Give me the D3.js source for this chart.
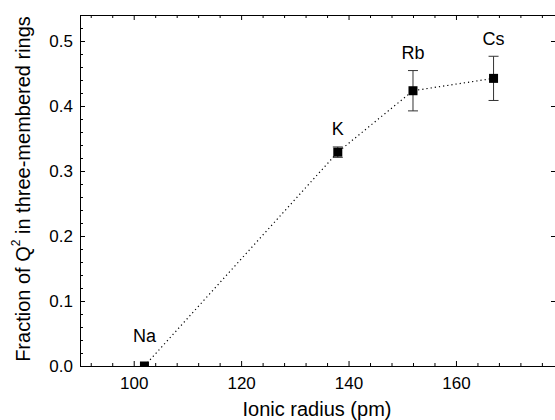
<!DOCTYPE html>
<html>
<head>
<meta charset="utf-8">
<script src="https://cdn.jsdelivr.net/npm/d3@7"></script>
<style>
  body { margin: 0; background: #fff; }
  svg { display: block; font-family: "Liberation Sans", Arial, sans-serif; }
</style>
</head>
<body>
<script>
const width = 555
const height = 420

// data
const ions = ['Na', 'K', 'Rb', 'Cs']
const radius = [102, 138, 152, 167]
const fraction = [0.0, 0.329, 0.4235, 0.4425]
const errors = [0.0, 0.008, 0.031, 0.034]
const xTicks = [100, 120, 140, 160]
const yTicks = [0.0, 0.1, 0.2, 0.3, 0.4, 0.5]

const points = ions.map((name, i) => ({name: name, x: radius[i], y: fraction[i], err: errors[i]}))

const x = d3.scaleLinear().domain([90, 179]).range([80, 558])
const y = d3.scaleLinear().domain([0, 0.54]).range([366, 15])

const svg = d3.select('body').append('svg')
  .attr('width', width)
  .attr('height', height)

svg.append('defs').append('clipPath')
    .attr('id', 'plot')
  .append('rect')
    .attr('x', x.range()[0])
    .attr('y', y.range()[1])
    .attr('width', x.range()[1] - x.range()[0])
    .attr('height', y.range()[0] - y.range()[1])

const xMinor = d3.range(92, 179, 4).filter(v => v % 20 !== 0)
const yMinor = d3.range(0, 0.541, 0.02).map(v => +v.toFixed(2)).filter(v => Math.round(v * 100) % 10 !== 0)

function styleAxis(g){
  g.selectAll('path').attr('stroke', '#000').attr('stroke-width', 1)
  g.selectAll('line').attr('stroke', '#000')
  g.selectAll('text').attr('fill', '#000').attr('font-size', 17)
}

// bottom
svg.append('g').attr('transform', `translate(0,${y.range()[0]})`)
  .call(d3.axisBottom(x).tickValues(xMinor).tickSize(-3).tickFormat('').tickSizeOuter(0))
  .call(styleAxis)
svg.append('g').attr('transform', `translate(0,${y.range()[0]})`)
  .call(d3.axisBottom(x).tickValues(xTicks).tickSize(-5).tickPadding(11).tickFormat(d3.format('d')).tickSizeOuter(0))
  .call(styleAxis)
// top
svg.append('g').attr('transform', `translate(0,${y.range()[1]})`)
  .call(d3.axisTop(x).tickValues(xMinor).tickSize(-3).tickFormat('').tickSizeOuter(0))
  .call(styleAxis)
svg.append('g').attr('transform', `translate(0,${y.range()[1]})`)
  .call(d3.axisTop(x).tickValues(xTicks).tickSize(-5).tickFormat('').tickSizeOuter(0))
  .call(styleAxis)
// left
svg.append('g').attr('transform', `translate(${x.range()[0]},0)`)
  .call(d3.axisLeft(y).tickValues(yMinor).tickSize(-3).tickFormat('').tickSizeOuter(0))
  .call(styleAxis)
svg.append('g').attr('transform', `translate(${x.range()[0]},0)`)
  .call(d3.axisLeft(y).tickValues(yTicks).tickSize(-5).tickPadding(7).tickFormat(d3.format('.1f')).tickSizeOuter(0))
  .call(styleAxis)
// right
svg.append('g').attr('transform', `translate(${x.range()[1]},0)`)
  .call(d3.axisRight(y).tickValues(yTicks).tickSize(-7).tickFormat('').tickSizeOuter(0))
  .call(styleAxis)

const plot = svg.append('g').attr('clip-path', 'url(#plot)')

plot.append('path')
  .datum(points)
  .attr('fill', 'none')
  .attr('stroke', '#000')
  .attr('stroke-width', 1.2)
  .attr('stroke-dasharray', '1.2,3')
  .attr('d', d3.line().x(d => x(d.x)).y(d => y(d.y)))

const bars = plot.append('g')
  .attr('stroke', '#333')
  .attr('stroke-width', 1)
  .selectAll('g')
  .data(points.filter(d => d.err > 0))
  .enter().append('g')

bars.append('line')
  .attr('x1', d => x(d.x)).attr('x2', d => x(d.x))
  .attr('y1', d => y(d.y - d.err)).attr('y2', d => y(d.y + d.err))
bars.append('line')
  .attr('x1', d => x(d.x) - 5).attr('x2', d => x(d.x) + 5)
  .attr('y1', d => y(d.y - d.err)).attr('y2', d => y(d.y - d.err))
bars.append('line')
  .attr('x1', d => x(d.x) - 5).attr('x2', d => x(d.x) + 5)
  .attr('y1', d => y(d.y + d.err)).attr('y2', d => y(d.y + d.err))

plot.append('g')
  .selectAll('rect')
  .data(points)
  .enter().append('rect')
    .attr('x', d => x(d.x) - 4.5)
    .attr('y', d => y(d.y) - 4.5)
    .attr('width', 9)
    .attr('height', 9)
    .attr('fill', '#000')

svg.append('g')
  .selectAll('text')
  .data(points)
  .enter().append('text')
    .attr('x', d => x(d.x))
    .attr('y', d => y(d.y + d.err) - (d.err > 0 ? 18 : 30))
    .attr('dy', '0.35em')
    .attr('text-anchor', 'middle')
    .attr('font-size', 18)
    .text(d => d.name)

svg.append('text')
  .attr('x', 317)
  .attr('y', 409)
  .attr('dy', '0.35em')
  .attr('text-anchor', 'middle')
  .attr('font-size', 20)
  .text('Ionic radius (pm)')

const yTitle = svg.append('text')
  .attr('transform', 'translate(23,189) rotate(-90)')
  .attr('text-anchor', 'middle')
  .attr('dy', '0.35em')
  .attr('font-size', 20)
yTitle.append('tspan').text('Fraction of Q')
yTitle.append('tspan').attr('font-size', 12).attr('dy', '-0.8em').text('2')
yTitle.append('tspan').attr('dy', '0.48em').text(' in three-membered rings')
</script>
</body>
</html>
